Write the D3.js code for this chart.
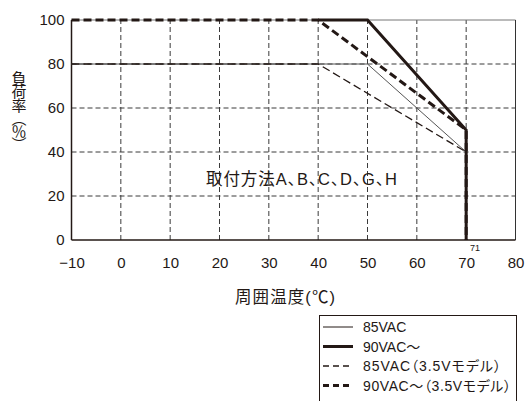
<!DOCTYPE html>
<html><head><meta charset="utf-8">
<script src="https://cdn.jsdelivr.net/npm/d3@7"></script>
<style>
body{margin:0;background:#fff;}
svg{display:block;}
text{font-family:"Liberation Sans","Noto Sans CJK JP",Arial,sans-serif;fill:#231815;}
.palt{font-feature-settings:"palt";}
.vt{font-family:"Noto Sans CJK JP",sans-serif;writing-mode:vertical-rl;text-orientation:mixed;}
</style></head>
<body><svg id="c" width="529" height="401"></svg>
<script>
const xTicks = [-10, 0, 10, 20, 30, 40, 50, 60, 70, 80];
const yTicks = [0, 20, 40, 60, 80, 100];
const seriesNames = ["85VAC", "90VAC～", "85VAC（3.5Vモデル）", "90VAC～（3.5Vモデル）"];
const s85 = [[-10, 80], [50, 80], [70, 40], [70, 0]];
const s90 = [[40, 100], [50, 100], [70, 50], [70, 0]];
const s85m = [[-10, 80], [40, 80], [70, 40], [70, 0]];
const s90m = [[-10, 100], [40, 100], [70, 50], [70, 0]];
const annotation = "取付方法A、B、C、D、G、H";
const xTitle = "周囲温度(℃)";
const yTitle = "負荷率（％）";
const markLabel = {x: 71, text: "71"};

const svg = d3.select("#c");
const x = d3.scaleLinear().domain([-10, 80]).range([71.5, 515.5]);
const y = d3.scaleLinear().domain([0, 100]).range([240, 20]);
const ink = "#231815";

// grid
svg.append("g").selectAll("line").data(xTicks.filter(d => d > -10 && d < 80)).join("line")
  .attr("x1", d => x(d)).attr("x2", d => x(d)).attr("y1", y(0)).attr("y2", y(100))
  .attr("stroke", "#3a3a3a").attr("stroke-width", 1).attr("stroke-dasharray", "5,3");
svg.append("g").selectAll("line").data(yTicks.filter(d => d > 0 && d < 100)).join("line")
  .attr("x1", x(-10)).attr("x2", x(80)).attr("y1", d => y(d)).attr("y2", d => y(d))
  .attr("stroke", "#3a3a3a").attr("stroke-width", 1).attr("stroke-dasharray", "5,3");
// frame
svg.append("line").attr("x1", x(-10)).attr("x2", x(80)).attr("y1", y(100)).attr("y2", y(100)).attr("stroke", "#777").attr("stroke-width", 1);
svg.append("line").attr("x1", x(80)).attr("x2", x(80)).attr("y1", y(100)).attr("y2", y(0)).attr("stroke", "#333").attr("stroke-width", 1);
svg.append("line").attr("x1", x(-10)).attr("x2", x(80)).attr("y1", y(0)).attr("y2", y(0)).attr("stroke", ink).attr("stroke-width", 1.5);
svg.append("line").attr("x1", x(-10)).attr("x2", x(-10)).attr("y1", y(100)).attr("y2", y(0)).attr("stroke", ink).attr("stroke-width", 1.5);

// axes labels
const xa = svg.append("g").attr("transform", `translate(0,${y(0)})`)
  .call(d3.axisBottom(x).tickValues(xTicks).tickSize(0).tickPadding(17).tickFormat(d => d < 0 ? "−" + Math.abs(d) : d));
xa.select(".domain").remove();
xa.selectAll("text").attr("font-size", 15).style("fill", ink).attr("font-family", "Liberation Sans, Arial, sans-serif");
const ya = svg.append("g").attr("transform", `translate(${x(-10)},0)`)
  .call(d3.axisLeft(y).tickValues(yTicks).tickSize(0).tickPadding(7));
ya.select(".domain").remove();
ya.selectAll("text").attr("font-size", 15).style("fill", ink).attr("font-family", "Liberation Sans, Arial, sans-serif");

// lines
const line = d3.line().x(d => x(d[0])).y(d => y(d[1]));
const styles = [
  {data: s85, w: 1, dash: null, ldash: null, col: "#555"},
  {data: s90, w: 3, dash: null, ldash: null, col: ink},
  {data: s85m, w: 1.3, dash: "8,4", ldash: "6,4", col: ink},
  {data: s90m, w: 3, dash: "8,4", ldash: "6,4", col: ink}
];
styles.forEach(s => {
  svg.append("path").datum(s.data).attr("d", line).attr("fill", "none")
    .attr("stroke", s.col).attr("stroke-width", s.w).attr("stroke-dasharray", s.dash);
});

// annotation
svg.append("text").attr("class", "palt").attr("x", 206).attr("y", 185).attr("font-size", 16.5)
  .attr("textLength", 191).attr("lengthAdjust", "spacing").text(annotation);
svg.append("text").attr("x", x(markLabel.x) + 4).attr("y", 251).attr("font-size", 9).attr("text-anchor", "middle").text(markLabel.text);

// titles
svg.append("text").attr("class", "palt").attr("x", 235).attr("y", 303).attr("font-size", 16.5)
  .attr("textLength", 100).attr("lengthAdjust", "spacing").text(xTitle);
svg.append("text").attr("class", "vt").attr("x", 19).attr("y", 71).attr("font-size", 15)
  .attr("textLength", 81).attr("lengthAdjust", "spacing").text(yTitle);

// legend
const legendLen = [null, null, 138, 148];
const lg = svg.append("g");
lg.append("rect").attr("x", 319.5).attr("y", 315.5).attr("width", 197).attr("height", 100)
  .attr("fill", "none").attr("stroke", ink).attr("stroke-width", 1);
lg.selectAll("line.l").data(styles).join("line").attr("class", "l")
  .attr("x1", 323).attr("x2", 353).attr("y1", (d, i) => 327 + i * 19.5).attr("y2", (d, i) => 327 + i * 19.5)
  .attr("stroke", ink).attr("stroke-width", d => d.w).attr("stroke-dasharray", d => d.ldash);
lg.selectAll("text").data(seriesNames).join("text").attr("class", "palt")
  .attr("x", 363).attr("y", (d, i) => 332 + i * 19.5).attr("font-size", 14)
  .each(function(d, i) { if (legendLen[i]) d3.select(this).attr("textLength", legendLen[i]).attr("lengthAdjust", "spacing"); })
  .text(d => d);
</script></body></html>
